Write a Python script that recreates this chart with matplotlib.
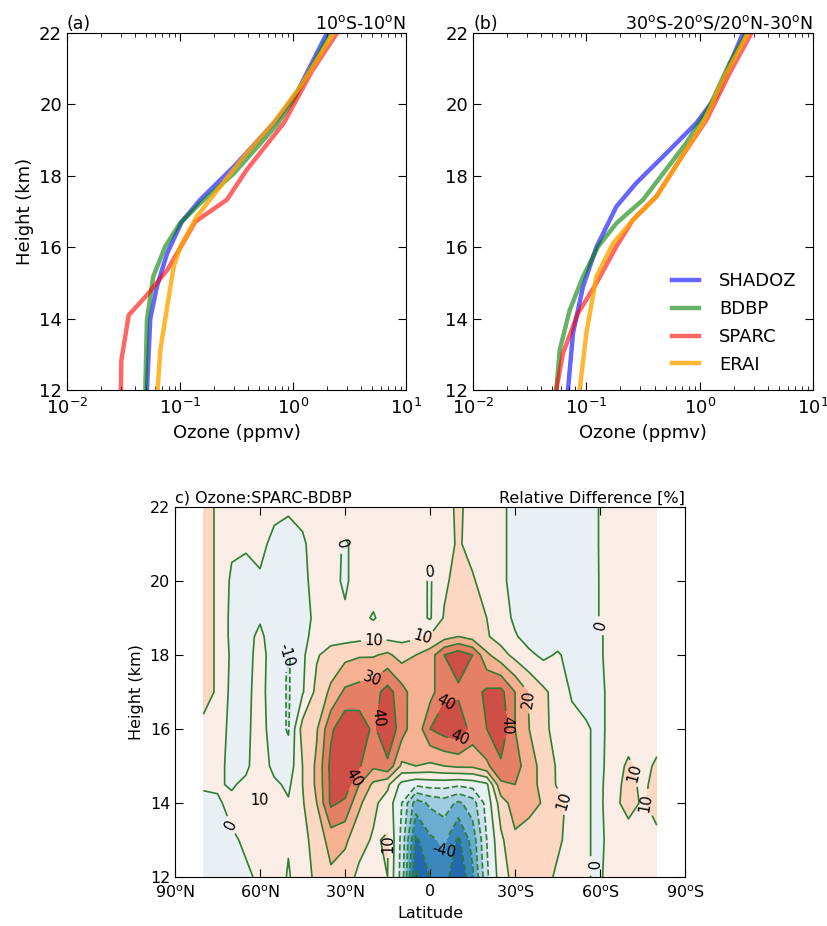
import numpy as np
import matplotlib
matplotlib.use('Agg')
import matplotlib.pyplot as plt

plt.rcParams['font.family'] = 'DejaVu Sans'
plt.rcParams['xtick.direction'] = 'in'
plt.rcParams['ytick.direction'] = 'in'
plt.rcParams['xtick.top'] = True
plt.rcParams['ytick.right'] = True
plt.rcParams['xtick.major.size'] = 5.5
plt.rcParams['ytick.major.size'] = 5.5
plt.rcParams['xtick.minor.size'] = 2.8
plt.rcParams['ytick.minor.size'] = 2.8
plt.rcParams['mathtext.default'] = 'regular'

# ---- profiles, panel (a): 10S-10N ----
a_shadoz_z = [12, 14.0, 14.9, 15.83, 16.72, 17.33, 18.26, 19.57, 20.32, 22]
a_shadoz = [0.051, 0.0546, 0.0625, 0.077, 0.104, 0.151, 0.30, 0.72, 1.08, 2.0]
a_bdbp_z = [12, 13.96, 15.18, 16.02, 16.67, 17.23, 18.07, 19.43, 20.13, 20.97, 22]
a_bdbp = [0.0493, 0.051, 0.058, 0.074, 0.10, 0.151, 0.30, 0.72, 1.01, 1.42, 2.14]
a_sparc_z = [12, 12.84, 14.1, 14.66, 15.36, 15.97, 16.72, 17.33, 18.17, 19.48, 20.93, 22]
a_sparc = [0.030, 0.0303, 0.0352, 0.051, 0.077, 0.10, 0.137, 0.26, 0.39, 0.83, 1.47, 2.45]
a_erai_z = [12, 13.12, 14.33, 15.45, 16.0, 16.86, 17.7, 18.54, 19.48, 20.5, 22]
a_erai = [0.0634, 0.067, 0.077, 0.088, 0.10, 0.141, 0.227, 0.366, 0.67, 1.16, 2.29]

# ---- profiles, panel (b): 30S-20S / 20N-30N ----
b_shadoz_z = [12, 13.6, 14.9, 16.0, 17.14, 17.8, 18.64, 19.48, 20.22, 22]
b_shadoz = [0.0688, 0.0763, 0.0935, 0.1226, 0.184, 0.276, 0.51, 0.935, 1.40, 2.41]
b_bdbp_z = [12, 13.12, 14.24, 15.18, 16.02, 16.67, 17.33, 18.92, 19.94, 21.16, 22]
b_bdbp = [0.0543, 0.0582, 0.0713, 0.0935, 0.127, 0.184, 0.316, 0.762, 1.22, 1.84, 2.58]
b_sparc_z = [12, 13.03, 14.15, 14.99, 16.02, 16.77, 17.42, 18.45, 19.57, 20.88, 22]
b_sparc = [0.0543, 0.0622, 0.0843, 0.1226, 0.184, 0.258, 0.415, 0.667, 1.15, 1.84, 2.86]
b_erai_z = [12, 13.6, 15.18, 16.11, 16.77, 17.42, 18.45, 19.48, 20.88, 22]
b_erai = [0.0873, 0.10, 0.1226, 0.172, 0.258, 0.415, 0.667, 1.07, 1.72, 2.67]

names = ['SHADOZ', 'BDBP', 'SPARC', 'ERAI']
colors = ['#0000ff', '#008000', '#ff0000', '#ffa500']
alphas = [0.6, 0.6, 0.6, 0.8]

# ---- panel (c): SPARC-BDBP relative difference [%] ----
lats = [80, 75, 70, 65, 60, 55, 50, 45, 40, 35, 30, 25, 20, 15, 10, 5, 0,
        -5, -10, -15, -20, -25, -30, -35, -40, -45, -50, -55, -60, -65, -70, -75, -80]
heights = [12, 13, 14, 14.5, 15, 16, 17, 18, 18.5, 19, 20, 21, 22]
d12 = [-3, -1, -2, -1, 1, 6, -1, 6, 12, 18, 14, 8, 6, 10, -14, -62, -50,
       -45, -60, -42, -12, 5, 14, 12, 12, 9, 10, 1, -2, 9, 4, 4, 6]
d13 = [-3, -2, -1, 1, 3, 4, 1, 7, 14, 24, 22, 13, 9, 11, -13, -52, -42,
       -38, -52, -36, -10, 8, 18, 14, 13, 11, 8, 1, -2, 5, 6, 6, 8]
d14 = [-2, -1, 2, 4, 10.5, 3, 1, 9, 20, 42, 38, 22, 12, 6, -10, -35, -28,
       -25, -32, -25, -6, 15, 25, 24, 19, 13, 7, 1, -2, 8, 13, 9, 13]
d145 = [1, 1, -1, 2, 7, 2, -2, 10, 22, 42, 46, 30, 18, 12, -3, -8, -6,
        -6, -8, -6, -2, 28, 30, 25, 16, 9, 5, 1, -2, 7, 13, 8, 13]
d15 = [3, 2, -2, -2, 6, -3, -6, 10, 22, 43, 46, 41, 32, 38, 18, 20, 18,
       20, 22, 22, 28, 38, 33, 26, 15, 9, 4, 1, -2, 5, 12, 6, 12]
d16 = [8, 5, -3, -2, 4, -5, -11, 14, 19, 38, 48, 46, 38, 48, 35, 22, 40,
       45, 47, 36, 40, 48, 30, 20, 12, 7, 3, 1, -2, 4, 4, 4, 4]
d17 = [13, 9, -3, -2, 3, -5, -11, -1, 13, 22, 32, 34, 36, 44, 34, 24, 26,
       38, 38, 36, 42, 43, 30, 19, 12, 6, -1, -3, -2, 4, 4, 4, 4]
d18 = [13, 9, -2, -3, 3, -4, -11, -2, 9, 14, 17, 19, 19, 22, 16, 20, 25,
       40, 46, 40, 22, 14, 7, 2, -2, 1, -3, -4, -1, 4, 4, 4, 4]
d185 = [13, 9, -3, -3, 2, -5, -8, -3, 4, 6, 6, 7, 7, 7, 7, 8, 11,
        16, 20, 16, 11, 6, 1, -4, -5, -4, -5, -5, -1, 4, 4, 4, 4]
d19 = [13, 9, -3, -2, -1, -5, -6, -3, 2, 3, 1, 3, -1, 5, 5, 4, -1,
       11, 15, 13, 10, 5, -2, -6, -6, -6, -6, -5, 0.5, 4, 4, 4, 4]
d20 = [13, 9, -2, -3, -1, -4, -5, -2, 3, 2, -1, 3, 5, 5, 5, 4, -1,
       8, 14, 11, 6, 2, -3, -6, -6, -6, -6, -5, 0.5, 4, 4, 4, 4]
d21 = [13, 9, 2, 1, 2, -2, -3, -1, 3, 3, -1, 3, 5, 5, 5, 5, 3,
       7, 11, 7, 5, 2, -3, -5, -5, -5, -5, -4, 0.5, 4, 4, 4, 4]
d22 = [13, 9, 3, 3, 3, 2, 1, 2, 4, 5, 5, 5, 5, 5, 5, 5, 5,
       6, 12, 6, 5, 2, -3, -5, -5, -5, -5, -4, 0.5, 4, 4, 4, 4]
diff = np.array([d12, d13, d14, d145, d15, d16, d17, d18, d185, d19, d20, d21, d22])

# where the contour labels sit (lat, height)
label_spots = [(32, 21.0), (2.5, 21.0), (51, 18.0), (20, 18.6), (3.5, 18.7),
               (-60.5, 18.8), (20.5, 17.4), (-5, 17.0), (-33.5, 16.8), (19, 16.3),
               (-10, 15.8), (-26.5, 16.1), (27.5, 14.7), (59, 14.3), (65, 13.6),
               (15, 12.9), (-3.5, 12.4), (-48, 14.1), (-71.5, 14.8), (-75, 14.0),
               (-54, 12.3)]

lat_ticks = [90, 60, 30, 0, -30, -60, -90]
lat_labels = [r'$90^o$N', r'$60^o$N', r'$30^o$N', '0', r'$30^o$S', r'$60^o$S', r'$90^o$S']

fig = plt.figure(figsize=(8.28, 9.26), dpi=100)
ax_a = fig.add_axes([0.0809, 0.5788, 0.4094, 0.3855])
ax_b = fig.add_axes([0.5713, 0.5788, 0.4106, 0.3855])
ax_c = fig.add_axes([0.2114, 0.0529, 0.616, 0.3996])


def profile_panel(ax, data, tag, region):
    for (z, v), name, col, al in zip(data, names, colors, alphas):
        ax.plot(v, z, color=col, lw=3.2, alpha=al, label=name)
    ax.set_xscale('log')
    ax.set_xlim(1e-2, 1e1)
    ax.set_ylim(12, 22)
    ax.set_yticks(range(12, 23, 2))
    ax.tick_params(labelsize=13)
    ax.tick_params(axis='x', which='major', pad=6)
    ax.set_xlabel('Ozone (ppmv)', fontsize=13)
    ax.set_title(tag, loc='left', fontsize=12.5, pad=3)
    ax.set_title(region, loc='right', fontsize=12.5, pad=3)


profile_panel(ax_a, [(a_shadoz_z, a_shadoz), (a_bdbp_z, a_bdbp), (a_sparc_z, a_sparc),
                     (a_erai_z, a_erai)], '(a)', r'$10^o$S-$10^o$N')
ax_a.set_ylabel('Height (km)', fontsize=13)
profile_panel(ax_b, [(b_shadoz_z, b_shadoz), (b_bdbp_z, b_bdbp), (b_sparc_z, b_sparc),
                     (b_erai_z, b_erai)], '(b)', r'$30^o$S-$20^o$S/$20^o$N-$30^o$N')
leg = ax_b.legend(loc='lower right', frameon=False, fontsize=13, handlelength=1.5,
                  handletextpad=1.1, labelspacing=0.55, bbox_to_anchor=(1.0, 0.0))

# contour panel: labelled and unlabelled levels drawn as two sets
fill_levels = np.arange(-70, 71, 10)
label_levels = [-40, -10, 0, 10, 20, 30, 40]
plain_levels = [-60, -50, -30, -20, 50]
line_col = '#2e7d32'
cf = ax_c.contourf(lats, heights, diff, levels=fill_levels, cmap='RdBu_r')
ax_c.contour(lats, heights, diff, levels=plain_levels, colors=line_col, linewidths=1.2)
cs = ax_c.contour(lats, heights, diff, levels=label_levels, colors=line_col, linewidths=1.2)
ax_c.clabel(cs, fmt='%d', fontsize=10.5, inline=True, colors='k', manual=label_spots)
ax_c.set_xlim(90, -90)
ax_c.set_ylim(12, 22)
ax_c.set_xticks(lat_ticks)
ax_c.set_xticklabels(lat_labels)
ax_c.set_yticks(range(12, 23, 2))
ax_c.tick_params(labelsize=11.5)
ax_c.tick_params(axis='x', pad=5)
ax_c.set_xlabel('Latitude', fontsize=11.5)
ax_c.set_ylabel('Height (km)', fontsize=11.5)
ax_c.set_title('c) Ozone:SPARC-BDBP', loc='left', fontsize=11.5, pad=3)
ax_c.set_title('Relative Difference [%]', loc='right', fontsize=11.5, pad=3)

fig.savefig('out.png', dpi=100)
